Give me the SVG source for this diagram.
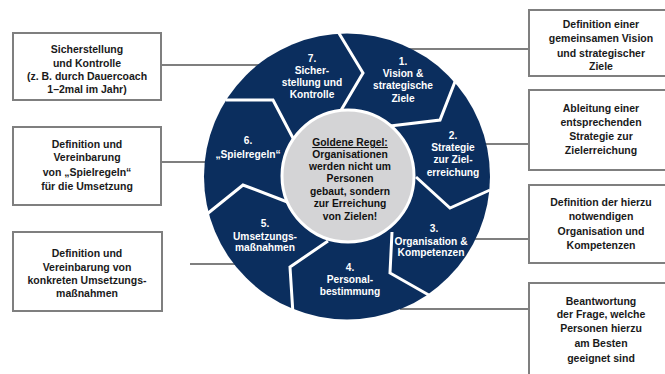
<svg xmlns="http://www.w3.org/2000/svg" width="665" height="374" viewBox="0 0 665 374">
  <style>
    .box { fill: #ffffff; stroke: #7f7f7f; stroke-width: 2; }
    .boxtxt { font-family: "Liberation Sans", Arial, sans-serif; font-weight: bold; font-size: 10.5px; fill: #1a1a1a; text-anchor: middle; }
    .segtxt { font-family: "Liberation Sans", Arial, sans-serif; font-weight: bold; font-size: 10.2px; fill: #ffffff; text-anchor: middle; }
    .hubtxt { font-family: "Liberation Sans", Arial, sans-serif; font-weight: bold; font-size: 10.3px; fill: #111111; text-anchor: middle; }
    .conn { stroke: #7f7f7f; stroke-width: 2; fill: none; }
    .divider { stroke: #ffffff; stroke-width: 3; fill: none; stroke-linejoin: miter; }
  </style>
  <rect width="665" height="374" fill="#ffffff"/>

  <!-- connectors (drawn first so the wheel covers their inner ends) -->
  <g id="connectors">
    <line class="conn" x1="400" y1="49" x2="529" y2="49"/>
    <line class="conn" x1="470" y1="144" x2="529" y2="144"/>
    <line class="conn" x1="470" y1="239" x2="529" y2="239"/>
    <line class="conn" x1="400" y1="309" x2="529" y2="309"/>
    <line class="conn" x1="161" y1="65" x2="290" y2="65"/>
    <line class="conn" x1="161" y1="162" x2="240" y2="162"/>
    <line class="conn" x1="190" y1="264" x2="260" y2="264"/>
  </g>

  <!-- wheel: navy disc cut into seven chevron segments by white lines -->
  <g id="wheel">
    <circle cx="347" cy="176.5" r="143" fill="#0b2e5e"/>
    <polyline class="divider" points="337,30 363,73 340,112"/>
    <polyline class="divider" points="458,74 440,120 390,126"/>
    <polyline class="divider" points="416,177 450,208 490,190"/>
    <polyline class="divider" points="392,232 390,273 434,298"/>
    <polyline class="divider" points="328,241 290,267 293,314"/>
    <polyline class="divider" points="207,214 243,185 290,203"/>
    <polyline class="divider" points="226,100 273,100 294,140"/>
  </g>

  <g id="seg1">
    <text class="segtxt" x="403" y="65">1.</text>
    <text class="segtxt" x="403" y="77">Vision &amp;</text>
    <text class="segtxt" x="403" y="89">strategische</text>
    <text class="segtxt" x="403" y="102">Ziele</text>
  </g>
  <g id="seg2">
    <text class="segtxt" x="453" y="139">2.</text>
    <text class="segtxt" x="453" y="151">Strategie</text>
    <text class="segtxt" x="453" y="163">zur Ziel-</text>
    <text class="segtxt" x="453" y="176">erreichung</text>
  </g>
  <g id="seg3">
    <text class="segtxt" x="434" y="232">3.</text>
    <text class="segtxt" x="431" y="245">Organisation &amp;</text>
    <text class="segtxt" x="431" y="256">Kompetenzen</text>
  </g>
  <g id="seg4">
    <text class="segtxt" x="350" y="271">4.</text>
    <text class="segtxt" x="350" y="283">Personal-</text>
    <text class="segtxt" x="350" y="295">bestimmung</text>
  </g>
  <g id="seg5">
    <text class="segtxt" x="265" y="227">5.</text>
    <text class="segtxt" x="265" y="240">Umsetzungs-</text>
    <text class="segtxt" x="265" y="251">maßnahmen</text>
  </g>
  <g id="seg6">
    <text class="segtxt" x="248" y="144">6.</text>
    <text class="segtxt" x="248" y="158">„Spielregeln“</text>
  </g>
  <g id="seg7">
    <text class="segtxt" x="312" y="62">7.</text>
    <text class="segtxt" x="312" y="74">Sicher-</text>
    <text class="segtxt" x="312" y="86">stellung und</text>
    <text class="segtxt" x="312" y="98">Kontrolle</text>
  </g>

  <!-- hub -->
  <g id="hub">
    <circle cx="348" cy="176" r="66" fill="#d4d4d6" stroke="#ffffff" stroke-width="3"/>
    <text class="hubtxt" x="350" y="146" text-decoration="underline">Goldene Regel:</text>
    <text class="hubtxt" x="350" y="158">Organisationen</text>
    <text class="hubtxt" x="350" y="170">werden nicht um</text>
    <text class="hubtxt" x="350" y="182">Personen</text>
    <text class="hubtxt" x="350" y="195">gebaut, sondern</text>
    <text class="hubtxt" x="350" y="207">zur Erreichung</text>
    <text class="hubtxt" x="350" y="220">von Zielen!</text>
  </g>

  <!-- right-hand boxes -->
  <g id="box1">
    <rect class="box" x="529" y="10" width="160" height="66"/>
    <text class="boxtxt" x="601" y="28">Definition einer</text>
    <text class="boxtxt" x="601" y="42">gemeinsamen Vision</text>
    <text class="boxtxt" x="601" y="56.5">und strategischer</text>
    <text class="boxtxt" x="601" y="70">Ziele</text>
  </g>
  <g id="box2">
    <rect class="box" x="529" y="90" width="160" height="80"/>
    <text class="boxtxt" x="601" y="112">Ableitung einer</text>
    <text class="boxtxt" x="601" y="126">entsprechenden</text>
    <text class="boxtxt" x="601" y="140">Strategie zur</text>
    <text class="boxtxt" x="601" y="154">Zielerreichung</text>
  </g>
  <g id="box3">
    <rect class="box" x="529" y="185" width="160" height="78"/>
    <text class="boxtxt" x="601" y="206">Definition der hierzu</text>
    <text class="boxtxt" x="601" y="220">notwendigen</text>
    <text class="boxtxt" x="601" y="235">Organisation und</text>
    <text class="boxtxt" x="601" y="249">Kompetenzen</text>
  </g>
  <g id="box4">
    <rect class="box" x="529" y="283" width="160" height="110"/>
    <text class="boxtxt" x="601" y="305">Beantwortung</text>
    <text class="boxtxt" x="601" y="318">der Frage, welche</text>
    <text class="boxtxt" x="601" y="332">Personen hierzu</text>
    <text class="boxtxt" x="601" y="347">am Besten</text>
    <text class="boxtxt" x="601" y="362">geeignet sind</text>
  </g>

  <!-- left-hand boxes -->
  <g id="box7">
    <rect class="box" x="13" y="33" width="148" height="67"/>
    <text class="boxtxt" x="87" y="53">Sicherstellung</text>
    <text class="boxtxt" x="87" y="67">und Kontrolle</text>
    <text class="boxtxt" x="87" y="80">(z. B. durch Dauercoach</text>
    <text class="boxtxt" x="87" y="93">1–2mal im Jahr)</text>
  </g>
  <g id="box6">
    <rect class="box" x="13" y="127" width="148" height="78"/>
    <text class="boxtxt" x="87" y="148">Definition und</text>
    <text class="boxtxt" x="87" y="161">Vereinbarung</text>
    <text class="boxtxt" x="87" y="176">von „Spielregeln“</text>
    <text class="boxtxt" x="87" y="190">für die Umsetzung</text>
  </g>
  <g id="box5">
    <rect class="box" x="13" y="232" width="149" height="79"/>
    <text class="boxtxt" x="87" y="257">Definition und</text>
    <text class="boxtxt" x="87" y="271">Vereinbarung von</text>
    <text class="boxtxt" x="87" y="284">konkreten Umsetzungs-</text>
    <text class="boxtxt" x="87" y="297">maßnahmen</text>
  </g>
</svg>
